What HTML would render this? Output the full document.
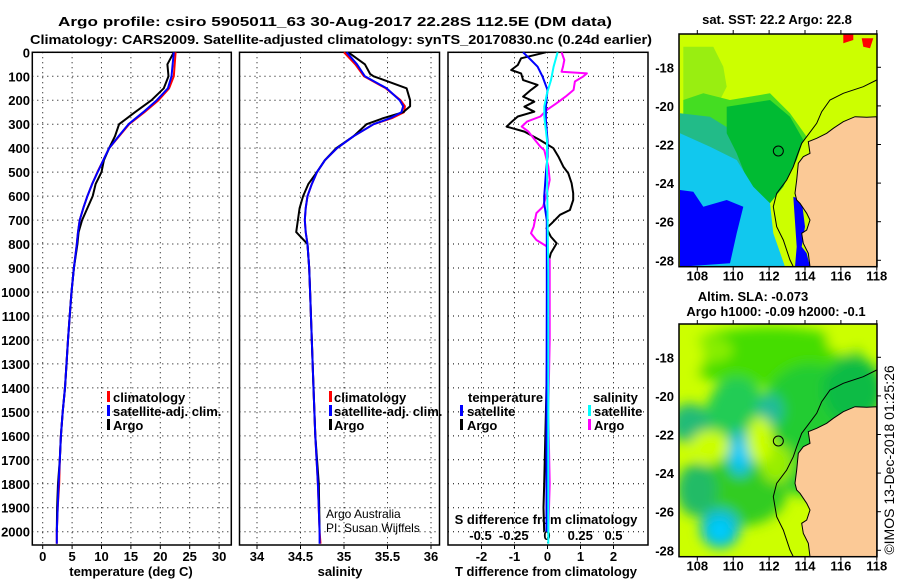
<!DOCTYPE html>
<html><head><meta charset="utf-8">
<style>
html,body{margin:0;padding:0;background:#fff;}
svg{display:block;font-family:"Liberation Sans",sans-serif;}
.b{font-weight:bold;font-size:13px;}
.n{font-weight:normal;}
</style></head>
<body>
<svg id="fig" width="900" height="580" viewBox="0 0 900 580" xmlns="http://www.w3.org/2000/svg">
<text class="b" x="58" y="26" textLength="554" lengthAdjust="spacingAndGlyphs" font-size="15">Argo profile: csiro 5905011_63 30-Aug-2017 22.28S 112.5E (DM data)</text>
<text class="b" x="30" y="44" textLength="622" lengthAdjust="spacingAndGlyphs" font-size="15">Climatology: CARS2009. Satellite-adjusted climatology: synTS_20170830.nc (0.24d earlier)</text>
<g id="g"></g>
</svg>
<script>
// ---- data ----
const depthTicks=[0,100,200,300,400,500,600,700,800,900,1000,1100,1200,1300,1400,1500,1600,1700,1800,1900,2000];
const tempTicks=[0,5,10,15,20,25,30];
const salTicks=[34,34.5,35,35.5,36];
const salTickLabels=["34","34.5","35","35.5","36"];
const tdTicks=[-2,-1,0,1,2];
const sdTicks=[-0.5,-0.25,0,0.25,0.5];
const sdTickLabels=["-0.5","-0.25","0","0.25","0.5"];

const tClimDepth=[0,100,150,200,250,300,350,400,450,500,550,600,650,700,750,800,900,1000,1100,1200,1300,1400,1500,1600,1700,1800,1900,2000,2050];
const tClim=[22.6,22.3,21.5,19.7,17.3,14.7,13.0,11.3,10.3,9.3,8.4,7.6,6.9,6.3,6.0,5.8,5.3,4.9,4.6,4.3,4.05,3.8,3.4,3.1,2.9,2.8,2.55,2.4,2.4];
const tSat=[22.3,21.9,21.3,19.4,17.1,14.6,12.9,11.3,10.3,9.35,8.4,7.6,6.9,6.3,6.0,5.8,5.3,4.9,4.6,4.3,4.05,3.8,3.4,3.1,2.9,2.7,2.55,2.4,2.4];
const argoDepth=[0,50,100,150,200,250,300,350,400,450,500,550,600,650,700,750,800,900,1000,1100,1200,1300,1400,1500,1600,1700,1800,1900,2000];
const tArgo=[22.3,21.2,21.4,20.6,18.5,15.7,13.0,12.3,11.3,10.4,10.0,9.0,8.5,7.6,6.7,6.1,5.9,5.3,4.9,4.6,4.3,4.05,3.8,3.4,3.1,2.9,2.6,2.45,2.4];

const sClimDepth=[0,50,100,150,200,225,250,275,300,350,400,450,500,550,600,650,700,750,800,900,1000,1400,1600,1800,2000,2050];
const sClim=[35.00,35.13,35.23,35.48,35.65,35.70,35.69,35.55,35.34,35.11,34.92,34.78,34.69,34.63,34.58,34.56,34.55,34.56,34.58,34.60,34.61,34.65,34.67,34.70,34.72,34.73];
const sSat=[35.03,35.15,35.24,35.49,35.64,35.68,35.66,35.53,35.34,35.11,34.92,34.78,34.69,34.63,34.58,34.56,34.55,34.56,34.58,34.60,34.61,34.65,34.67,34.70,34.72,34.72];
const sArgoDepth=[0,50,90,100,150,200,225,250,275,300,350,400,450,500,550,600,650,700,750,800,850,900,1000,1400,1600,1800,2000];
const sArgo=[35.05,35.24,35.30,35.34,35.72,35.76,35.76,35.68,35.45,35.26,35.11,34.91,34.78,34.69,34.59,34.53,34.49,34.47,34.45,34.58,34.59,34.60,34.61,34.65,34.67,34.71,34.72];

const tdArgoDepth=[0,25,53,74,88,116,136,157,185,206,227,248,268,289,310,331,366,400,435,477,505,546,588,616,658,678,713,734,769,797,838,866,908,1200,1500,1800,1900,2000];
const tdArgo=[-0.05,-0.8,-0.9,-1.1,-0.8,-0.74,-0.3,-0.5,-0.74,-0.4,-0.7,-0.4,-0.9,-1.08,-1.24,-0.7,-0.23,0.18,0.33,0.48,0.63,0.73,0.78,0.78,0.68,0.38,0.13,-0.03,0.1,0.28,0.1,0.05,0.0,0.0,-0.05,-0.1,-0.12,-0.1];
const tdSatDepth=[0,32,60,101,157,226,282,366,435,505,602,630,700,1000,1500,2000];
const tdSat=[-0.74,-0.5,-0.3,-0.15,0.0,-0.05,-0.05,0.0,0.0,-0.05,-0.1,-0.1,-0.02,-0.02,-0.03,-0.03];
const sdArgoDepth=[0,32,60,81,88,102,122,157,185,213,240,268,289,310,331,366,394,408,477,532,588,644,671,727,755,783,810,852,866,1200,1500,1800,2000];
const sdArgo=[0.11,0.13,0.12,0.11,0.30,0.27,0.21,0.2,0.14,0.07,0.0,-0.05,-0.15,-0.19,-0.14,-0.09,-0.05,-0.02,0.01,0.02,0.0,-0.03,-0.08,-0.1,-0.12,-0.08,0.0,0.0,0.02,0.02,0.01,0.02,0.01];
const sdSatDepth=[0,60,116,171,226,268,366,505,922,2050];
const sdSat=[0.08,0.05,0.03,0.0,-0.02,-0.02,0.0,0.0,0.01,0.01];

const lonTicks=[108,110,112,114,116,118];
const latTicks=[-18,-20,-22,-24,-26,-28];

// ---- helpers ----
const NS="http://www.w3.org/2000/svg";
const G=document.getElementById('g');
function el(tag,attrs,parent){const e=document.createElementNS(NS,tag);for(const k in attrs)e.setAttribute(k,attrs[k]);(parent||G).appendChild(e);return e;}
function txt(x,y,s,anchor,cls,extra){const t=el('text',Object.assign({x:x,y:y,'text-anchor':anchor||'start',class:cls||'b'},extra||{}));t.textContent=s;return t;}
const Y0=52.3,PY=0.2397,YB=545;
const yD=d=>Y0+d*PY;
const xT=v=>42.7+v*5.88;
const xS=v=>257+(v-34)*87;
const xTD=v=>547.5+v*33;
const xSD=v=>547+v*133;

function panel(x0,x1,xs,xf,name){
  const r=el('rect',{x:x0,y:Y0,width:x1-x0,height:YB-Y0,fill:'#fff',stroke:'#000','stroke-width':1.5});
  
  depthTicks.forEach(d=>{const l=el('line',{x1:x0,x2:x1,y1:yD(d),y2:yD(d),stroke:'#000','stroke-width':1,'stroke-dasharray':'1,4'});
    });
  xs.forEach(v=>{const l=el('line',{x1:xf(v),x2:xf(v),y1:Y0,y2:YB,stroke:'#000','stroke-width':1,'stroke-dasharray':'1,4'});
    
    const t=el('line',{x1:xf(v),x2:xf(v),y1:YB,y2:YB+4,stroke:'#000'});});
}
function line(xs,ds,xf,color,name,w){
  const pts=xs.map((v,i)=>xf(v).toFixed(1)+','+yD(ds[i]).toFixed(1)).join(' ');
  const p=el('polyline',{points:pts,fill:'none',stroke:color,'stroke-width':w||2,'stroke-linejoin':'round'});
  
}
function legMark(x,y,c){const r=el('rect',{x:x,y:y-11,width:3,height:11,fill:c});}

// ---- panel 1: temperature ----
panel(32.3,231.3,tempTicks,xT,'temperature-panel');
depthTicks.forEach(d=>{const t=txt(30,yD(d)+5,String(d),'end');});
tempTicks.forEach(v=>{const t=txt(xT(v),561,String(v),'middle');});
let t1=txt(131,576,'temperature (deg C)','middle');
line(tClim,tClimDepth,xT,'#ff0000','temperature-climatology-line');
line(tArgo,argoDepth,xT,'#000','temperature-argo-line');
line(tSat,tClimDepth,xT,'#0000ff','temperature-satellite-line');
[['climatology','#f00',402],['satellite-adj. clim.','#00f',416],['Argo','#000',430]].forEach(a=>{legMark(107,a[2],a[1]);const t=txt(113,a[2],a[0]);});

// ---- panel 2: salinity ----
panel(239.5,439.5,salTicks,xS,'salinity-panel');
salTicks.forEach((v,i)=>{const t=txt(xS(v),561,salTickLabels[i],'middle');});
let t2=txt(340,576,'salinity','middle');
line(sClim,sClimDepth,xS,'#ff0000','salinity-climatology-line');
line(sArgo,sArgoDepth,xS,'#000','salinity-argo-line');
line(sSat,sClimDepth,xS,'#0000ff','salinity-satellite-line');
[['climatology','#f00',402],['satellite-adj. clim.','#00f',416],['Argo','#000',430]].forEach(a=>{legMark(329,a[2],a[1]);const t=txt(334,a[2],a[0]);});
let c1=txt(326,518,'Argo Australia','start','n',{'font-size':12});
let c2=txt(326,532,'PI: Susan Wijffels','start','n',{'font-size':12});

// ---- panel 3: differences ----
panel(448,648,tdTicks,xTD,'difference-panel');
tdTicks.forEach(v=>{const t=txt(xTD(v),561,String(v),'middle');});
sdTicks.forEach((v,i)=>{const t=txt(xSD(v),540,sdTickLabels[i],'middle');});
let t3=txt(546,576,'T difference from climatology','middle');
let t4=txt(546,524,'S difference from climatology','middle');
line(tdArgo,tdArgoDepth,xTD,'#000','t-diff-argo-line');
line(sdArgo,sdArgoDepth,xSD,'#ff00ff','s-diff-argo-line');
line(tdSat,tdSatDepth,xTD,'#0000ff','t-diff-satellite-line');
line(sdSat,sdSatDepth,xSD,'#00ffff','s-diff-satellite-line');
let l1=txt(468,402,'temperature');
legMark(460,416,'#00f');let l2=txt(467,416,'satellite');
legMark(460,430,'#000');let l3=txt(467,430,'Argo');
let l4=txt(593,402,'salinity');
legMark(588,416,'#0ff');let l5=txt(594,416,'satellite');
legMark(588,430,'#f0f');let l6=txt(594,430,'Argo');

// ---- maps ----
const MX0=679,MX1=877,LON0=108,PXLON=17.95,PXLAT=19.3;
const coast=[[620,350],[590,352],[555,350],[520,365],[490,385],[470,400],[440,415],[415,425],[420,460],[400,470],[385,490],[380,540],[375,580],[380,600],[390,610],[410,640],[420,660],[410,690],[395,700],[400,730],[415,760],[420,800],[620,800]];
const shelf=[[620,240],[580,260],[520,280],[480,300],[455,335],[440,370],[410,410],[395,430],[380,470],[370,500],[350,540],[320,580],[310,620],[320,680],[340,720],[360,780],[370,800]];
function zp(arr,oy){return arr.map(p=>(670+p[0]/3).toFixed(1)+','+(oy+p[1]/3).toFixed(1)).join(' ');}
function map(oy,name,fills){
  const y0=oy+34,y1=oy+266.7;
  const cp=el('clipPath',{id:'clip'+oy});el('rect',{x:MX0,y:y0,width:MX1-MX0,height:y1-y0},cp);
  const g=el('g',{'clip-path':'url(#clip'+oy+')'});
  
  el('rect',{x:MX0,y:y0,width:MX1-MX0,height:y1-y0,fill:'#ccff00'},g);
  fills(g,oy);
  const land=el('polygon',{points:zp(coast,oy),fill:'#fbc996',stroke:'#000','stroke-width':1},g);
  
  const sh=el('polyline',{points:zp(shelf,oy),fill:'none',stroke:'#000','stroke-width':1},g);
  
  const ci=el('circle',{cx:670+325/3,cy:oy+453/3,r:5,fill:'none',stroke:'#000','stroke-width':1});
  
  const fr=el('rect',{x:MX0,y:y0,width:MX1-MX0,height:y1-y0,fill:'none',stroke:'#000','stroke-width':1.5});
  
  lonTicks.forEach(v=>{const x=697.3+(v-LON0)*PXLON;const t=txt(x,y1+14,String(v),'middle');
    el('line',{x1:x,x2:x,y1:y1,y2:y1+4,stroke:'#000'});el('line',{x1:x,x2:x,y1:y0,y2:y0-4,stroke:'#000'});});
  latTicks.forEach(v=>{const y=oy+67.3+(-18-v)*PXLAT;const t=txt(674,y+5,String(v),'end');
    el('line',{x1:MX1,x2:MX1+4,y1:y,y2:y,stroke:'#000'});});
}
const defs=el('defs',{});
const f=el('filter',{id:'blur',x:'-50%',y:'-50%',width:'200%',height:'200%'},defs);el('feGaussianBlur',{stdDeviation:6},f);
map(0,'sst-map',(g,oy)=>{
  const P=(a,c,n)=>{const p=el('polygon',{points:zp(a,oy),fill:c},g);};
  P([[40,140],[130,140],[160,200],[170,260],[150,300],[40,300]],'#99ee11','sst-scattered-green');
  P([[40,300],[100,280],[180,300],[300,280],[360,340],[410,410],[390,440],[200,420],[40,360]],'#44dd22','sst-green-patch');
  P([[30,340],[120,350],[200,400],[240,470],[230,560],[30,560]],'#22bb88','sst-teal-patch');
  P([[170,320],[300,300],[360,350],[400,420],[380,480],[340,560],[300,610],[240,560],[200,460],[170,400]],'#00bb33','sst-green-core');
  P([[30,400],[120,440],[200,480],[250,560],[300,610],[310,700],[345,800],[30,800]],'#11c8ee','sst-cyan-patch');
  P([[30,570],[70,575],[100,620],[170,600],[220,620],[200,700],[180,790],[30,800]],'#0000ff','sst-blue-patch');
  P([[370,590],[395,600],[405,680],[395,740],[410,760],[420,800],[375,800],[380,740]],'#0000ff','sst-blue-coastal');
  P([[520,100],[550,100],[550,120],[520,130]],'#ff0000','sst-warm-patch');
  P([[575,115],[610,115],[600,145],[580,140]],'#ff0000','sst-warm-patch');
});
const topLbl=txt(777,24,'sat. SST: 22.2 Argo: 22.8','middle');
map(290,'sla-map',(g,oy)=>{
  const bg=el('g',{filter:'url(#blur)'},g);
  const E=(cx,cy,rx,ry,c)=>{const e=el('ellipse',{cx:670+cx/3,cy:oy+cy/3,rx:rx/3,ry:ry/3,fill:c},bg);};
  E(300,200,280,90,'#44dd00');E(420,420,160,200,'#22cc33');E(200,420,100,160,'#22cc55');
  E(60,400,60,60,'#22bb77');E(300,360,40,50,'#22bb99');E(200,610,150,100,'#33cc22');
  E(80,600,60,80,'#22bb66');E(110,180,80,40,'#88ee00');E(520,150,50,40,'#ccff00');
  E(210,490,40,70,'#11bbcc');E(150,715,60,60,'#11bbcc');E(320,520,50,60,'#99ee00');
  E(550,300,90,100,'#11bb44');E(120,470,60,50,'#ccff00');E(270,450,40,70,'#ccff00');
  E(60,200,40,60,'#ccff00');
  E(210,495,22,45,'#00ccff');E(150,720,35,35,'#00ccff');
});
const bl1=txt(753,301,'Altim. SLA: -0.073','middle');
const bl2=txt(776,316,'Argo h1000: -0.09 h2000: -0.1','middle');
const cr=txt(0,0,'\u00a9IMOS 13-Dec-2018 01:25:26','middle','n',{'font-size':14,transform:'translate(894,460) rotate(-90)'});

</script>
</body></html>
